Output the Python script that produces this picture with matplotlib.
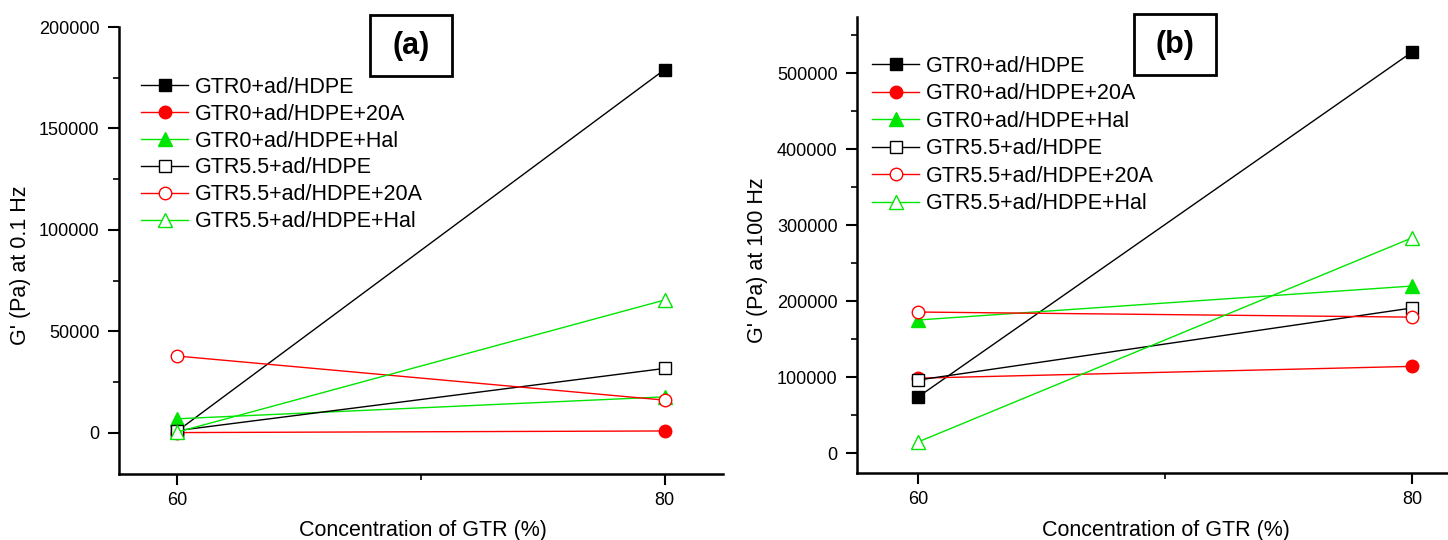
import matplotlib
matplotlib.use("Agg")
import matplotlib.pyplot as plt
from matplotlib.ticker import MultipleLocator, FixedLocator
from matplotlib.patches import Rectangle

plt.rcParams['font.family'] = ['Liberation Sans', 'DejaVu Sans']

# ---------------- data ----------------
conc = [60, 80]
series_labels = ["GTR0+ad/HDPE", "GTR0+ad/HDPE+20A", "GTR0+ad/HDPE+Hal",
                 "GTR5.5+ad/HDPE", "GTR5.5+ad/HDPE+20A", "GTR5.5+ad/HDPE+Hal"]

# G' at 0.1 Hz (panel a)
a_gtr0 = [1000, 179000]
a_gtr0_20a = [200, 1000]
a_gtr0_hal = [7000, 17800]
a_gtr55 = [1200, 31800]
a_gtr55_20a = [37900, 16200]
a_gtr55_hal = [500, 65500]

# G' at 100 Hz (panel b)
b_gtr0 = [73700, 527500]
b_gtr0_20a = [98500, 114000]
b_gtr0_hal = [175000, 219700]
b_gtr55 = [96000, 190800]
b_gtr55_20a = [185500, 178800]
b_gtr55_hal = [14500, 283000]

panel_a = [a_gtr0, a_gtr0_20a, a_gtr0_hal, a_gtr55, a_gtr55_20a, a_gtr55_hal]
panel_b = [b_gtr0, b_gtr0_20a, b_gtr0_hal, b_gtr55, b_gtr55_20a, b_gtr55_hal]

GREEN = '#00e600'
styles = [
    dict(color='black', marker='s', mfc='black', mec='black', ms=9),
    dict(color='red', marker='o', mfc='red', mec='red', ms=9),
    dict(color=GREEN, marker='^', mfc=GREEN, mec=GREEN, ms=10),
    dict(color='black', marker='s', mfc='white', mec='black', ms=9),
    dict(color='red', marker='o', mfc='white', mec='red', ms=9),
    dict(color=GREEN, marker='^', mfc='white', mec=GREEN, ms=10),
]

W, H = 1448, 540
fig = plt.figure(figsize=(W / 100, H / 100), dpi=100)


def px_axes(l, t, r, b):
    return fig.add_axes([l / W, 1 - b / H, (r - l) / W, (b - t) / H])


def style_axes(ax, ymajor, yminor):
    for s in ['top', 'right']:
        ax.spines[s].set_visible(False)
    for s in ['left', 'bottom']:
        ax.spines[s].set_linewidth(1.8)
    ax.yaxis.set_major_locator(MultipleLocator(ymajor))
    ax.yaxis.set_minor_locator(MultipleLocator(yminor))
    ax.xaxis.set_major_locator(FixedLocator(conc))
    ax.xaxis.set_minor_locator(FixedLocator([70]))
    ax.tick_params(which='major', direction='out', length=8, width=1.5,
                   labelsize=13, pad=6)
    ax.tick_params(which='minor', direction='out', length=4, width=1.2)
    ax.tick_params(axis='x', which='major', pad=5)
    ax.ticklabel_format(axis='y', style='plain', useOffset=False)


def draw(ax, data):
    handles = []
    for vals, st, lab in zip(data, styles, series_labels):
        h, = ax.plot(conc, vals, lw=1.0, color=st['color'], marker=st['marker'],
                     mfc=st['mfc'], mec=st['mec'], ms=st['ms'], mew=1.0,
                     label=lab, clip_on=False)
        handles.append(h)
    return handles


# ---------------- panel (a) ----------------
axa = px_axes(119, 27, 723, 474)
hs = draw(axa, panel_a)
axa.set_xlim(57.6, 82.4)
axa.set_ylim(-20200, 200000)
style_axes(axa, 50000, 25000)
axa.legend(handles=hs, loc='upper left', bbox_to_anchor=(141 / W, 1 - 77 / H),
           bbox_transform=fig.transFigure, frameon=False, fontsize=15.5,
           handlelength=2.2, handletextpad=0.3, labelspacing=0.27,
           borderpad=0, borderaxespad=0, markerscale=1.0)

fig.text(21 / W, 1 - 265 / H, "G' (Pa) at 0.1 Hz", rotation=90,
         ha='center', va='center', fontsize=15.5)
fig.text(423 / W, 1 - 536 / H, "Concentration of GTR (%)",
         ha='center', va='baseline', fontsize=15.5)
fig.patches.append(Rectangle((370 / W, 1 - 76 / H), 82 / W, 61 / H,
                             transform=fig.transFigure, fill=False,
                             lw=2, ec='black'))
fig.text(411 / W, 1 - 46 / H, "(a)", ha='center', va='center',
         fontsize=22, fontweight='bold')

# ---------------- panel (b) ----------------
axb = px_axes(857, 17, 1448, 473)
hs = draw(axb, panel_b)
axb.set_xlim(57.53, 81.46)
axb.set_ylim(-26300, 573700)
style_axes(axb, 100000, 50000)
axb.legend(handles=hs, loc='upper left', bbox_to_anchor=(872 / W, 1 - 56 / H),
           bbox_transform=fig.transFigure, frameon=False, fontsize=15.5,
           handlelength=2.2, handletextpad=0.3, labelspacing=0.3,
           borderpad=0, borderaxespad=0, markerscale=1.0)

fig.text(757 / W, 1 - 260 / H, "G' (Pa) at 100 Hz", rotation=90,
         ha='center', va='center', fontsize=15.5)
fig.text(1166 / W, 1 - 536 / H, "Concentration of GTR (%)",
         ha='center', va='baseline', fontsize=15.5)
fig.patches.append(Rectangle((1134 / W, 1 - 75 / H), 82 / W, 61 / H,
                             transform=fig.transFigure, fill=False,
                             lw=2, ec='black'))
fig.text(1175 / W, 1 - 45 / H, "(b)", ha='center', va='center',
         fontsize=22, fontweight='bold')

fig.savefig("out.png", dpi=100)
